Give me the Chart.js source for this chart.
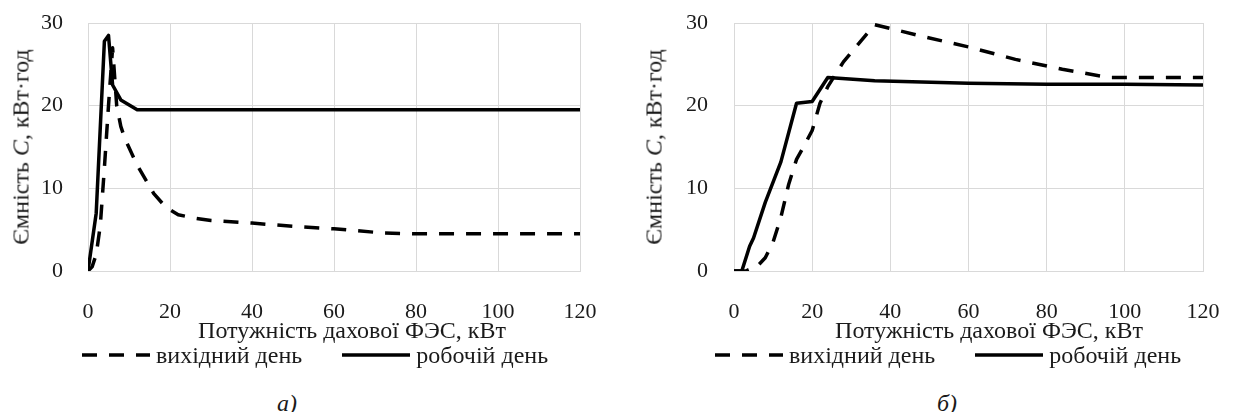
<!DOCTYPE html>
<html lang="uk">
<head>
<meta charset="utf-8">
<title>Ємність накопичувача</title>
<script src="https://cdn.jsdelivr.net/npm/chart.js@4.4.1/dist/chart.umd.min.js"></script>
<style>
  html, body { margin: 0; padding: 0; background: #fff; }
  #page { position: relative; width: 1234px; height: 412px; overflow: hidden;
          font-family: "Liberation Serif", "Times New Roman", serif; color: #1a1a1a; }
  .box { position: absolute; top: 0; width: 617px; height: 330px; }
  .ytitle { position: absolute; font-size: 24px; white-space: nowrap;
            transform: translate(-50%, -50%) rotate(-90deg); }
  .xtitle { position: absolute; font-size: 24px; white-space: nowrap;
            transform: translate(-50%, -50%); }
  .caption { position: absolute; font-size: 24px; font-style: italic;
             transform: translate(-50%, -50%); }
  .legend { position: absolute; top: 341px; display: flex; align-items: center;
            font-size: 24px; line-height: 28px; white-space: nowrap; }
  .legend .item { display: flex; align-items: center; }
  .legend .item + .item { margin-left: 40px; }
  .legend svg { margin-right: 6px; }
</style>
</head>
<body>
<div id="page">
  <div class="box" style="left:0"><canvas id="chart-a"></canvas></div>
  <div class="box" style="left:617px"><canvas id="chart-b"></canvas></div>

  <div class="ytitle" style="left:21px; top:147px">Ємність <i>C</i>, кВт·год</div>
  <div class="ytitle" style="left:654px; top:147px">Ємність <i>C</i>, кВт·год</div>

  <div class="xtitle" style="left:352px; top:330px">Потужність дахової ФЭС, кВт</div>
  <div class="xtitle" style="left:989px; top:330px">Потужність дахової ФЭС, кВт</div>

  <div class="legend" id="legend-a" style="left:82px"></div>
  <div class="legend" id="legend-b" style="left:715px"></div>

  <div class="caption" style="left:287px; top:403px">а)</div>
  <div class="caption" style="left:947px; top:403px">б)</div>
</div>

<script>
  // підписи серій
  const SERIES_LABELS = ['вихідний день', 'робочій день'];
  const X_TICKS = [0, 20, 40, 60, 80, 100, 120];
  const Y_TICKS = [0, 10, 20, 30];

  // графік а) — вихідний день (штрихова)
  const weekendA_x = [0, 1, 2, 3, 4, 5, 6, 7, 8, 9, 12, 16, 19, 22, 26, 30, 40, 50, 60, 72, 80, 100, 120];
  const weekendA_y = [0, 0.5, 2, 5.5, 12.5, 20, 27, 20, 17.5, 16, 12.8, 9.4, 7.7, 6.8, 6.4, 6.1, 5.8, 5.4, 5.1, 4.6, 4.5, 4.5, 4.5];

  // графік а) — робочій день (суцільна)
  const workdayA_x = [0, 2, 4, 5, 6, 8, 12, 20, 40, 60, 80, 100, 120];
  const workdayA_y = [0, 7, 27.8, 28.5, 22.5, 20.7, 19.5, 19.5, 19.5, 19.5, 19.5, 19.5, 19.5];

  // графік б) — вихідний день (штрихова)
  const weekendB_x = [0, 3, 6, 8, 10, 12, 14, 16, 18, 20, 22, 24, 28, 36, 48, 60, 72, 84, 96, 108, 120];
  const weekendB_y = [0, 0, 0.6, 1.6, 3.5, 6.5, 10.5, 13.5, 15.2, 17, 20.3, 22.3, 25.3, 29.8, 28.4, 27.1, 25.6, 24.4, 23.4, 23.4, 23.4];

  // графік б) — робочій день (суцільна)
  const workdayB_x = [0, 2, 4, 5, 8, 12, 16, 20, 24, 36, 60, 80, 100, 120];
  const workdayB_y = [0, 0, 3, 4, 8.3, 13.2, 20.3, 20.5, 23.4, 23.0, 22.7, 22.6, 22.6, 22.5];

  const FONT = '"Liberation Serif", "Times New Roman", serif';
  const TEXT = '#1a1a1a';
  const GRID = '#d9d9d9';
  Chart.defaults.font.family = FONT;
  Chart.defaults.color = TEXT;

  function toPoints(xs, ys) {
    return xs.map((x, i) => ({ x, y: ys[i] }));
  }

  // легенда під графіком, зразки ліній беруться зі стилю серій
  function buildLegend(chart, elId) {
    const el = document.getElementById(elId);
    chart.data.datasets.forEach(ds => {
      const dash = ds.borderDash ? ds.borderDash.join(' ') : '';
      const item = document.createElement('div');
      item.className = 'item';
      item.innerHTML =
        `<svg width="68" height="8"><line x1="0" y1="4" x2="68" y2="4" stroke="${ds.borderColor}"` +
        ` stroke-width="${ds.borderWidth}"${dash ? ` stroke-dasharray="${dash}"` : ''}/></svg>` +
        `<span>${ds.label}</span>`;
      el.appendChild(item);
    });
  }

  function makeChart(canvasId, weekendX, weekendY, workdayX, workdayY, leftWidth, padRight, tickPad) {
    const ctx = document.getElementById(canvasId).getContext('2d');
    return new Chart(ctx, {
      type: 'line',
      data: {
        datasets: [
          {
            label: SERIES_LABELS[0],
            data: toPoints(weekendX, weekendY),
            borderColor: '#000',
            backgroundColor: '#000',
            borderWidth: 3.5,
            borderDash: [15, 12],
            pointRadius: 0,
            tension: 0,
            fill: false
          },
          {
            label: SERIES_LABELS[1],
            data: toPoints(workdayX, workdayY),
            borderColor: '#000',
            backgroundColor: '#000',
            borderWidth: 3.5,
            pointRadius: 0,
            tension: 0,
            fill: false
          }
        ]
      },
      options: {
        responsive: true,
        maintainAspectRatio: false,
        animation: false,
        elements: { line: { borderJoinStyle: 'round', borderCapStyle: 'butt' } },
        layout: { padding: { left: 0, right: padRight, top: 23, bottom: 0 } },
        plugins: {
          legend: { display: false },
          tooltip: { enabled: false }
        },
        scales: {
          x: {
            type: 'linear',
            min: 0,
            max: 120,
            afterBuildTicks: scale => { scale.ticks = X_TICKS.map(v => ({ value: v })); },
            afterFit: scale => {
              scale.height = 59;
              scale.paddingLeft = 0;
              scale.paddingRight = 0;
            },
            ticks: { padding: 28, color: TEXT, font: { size: 22, family: FONT } },
            grid: { color: GRID, lineWidth: 1, drawTicks: false },
            border: { color: GRID }
          },
          y: {
            min: 0,
            max: 30,
            afterBuildTicks: scale => { scale.ticks = Y_TICKS.map(v => ({ value: v })); },
            afterFit: scale => {
              scale.width = leftWidth;
              scale.paddingTop = 0;
              scale.paddingBottom = 0;
            },
            ticks: { padding: tickPad, color: TEXT, font: { size: 22, family: FONT } },
            grid: { color: GRID, lineWidth: 1, drawTicks: false },
            border: { color: GRID }
          }
        }
      }
    });
  }

  const chartA = makeChart('chart-a', weekendA_x, weekendA_y, workdayA_x, workdayA_y, 88, 37, 25);
  const chartB = makeChart('chart-b', weekendB_x, weekendB_y, workdayB_x, workdayB_y, 117, 31, 26);
  buildLegend(chartA, 'legend-a');
  buildLegend(chartB, 'legend-b');
</script>
</body>
</html>
